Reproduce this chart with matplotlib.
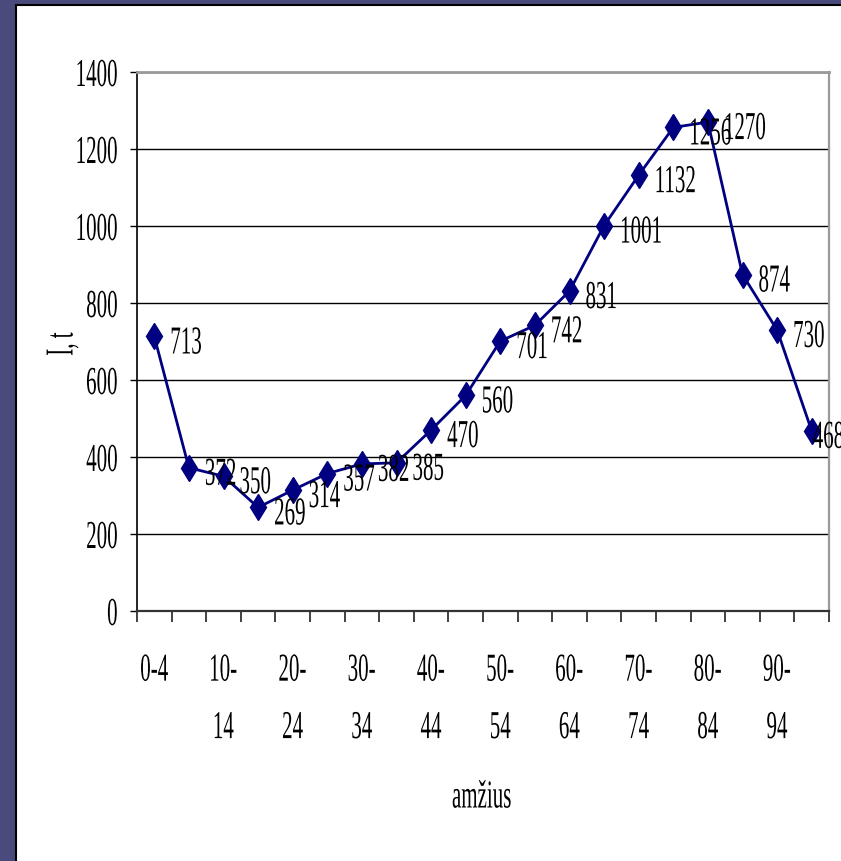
import matplotlib
matplotlib.use("Agg")
import matplotlib.pyplot as plt
import numpy as np
from matplotlib import patheffects
from matplotlib.patches import Rectangle
from matplotlib.transforms import Affine2D

# age groups and values
age_groups = ["0-4", "5-9", "10-14", "15-19", "20-24", "25-29", "30-34", "35-39",
              "40-44", "45-49", "50-54", "55-59", "60-64", "65-69", "70-74", "75-79",
              "80-84", "85-89", "90-94", "95-99"]
values = [713, 372, 350, 269, 314, 357, 382, 385, 470, 560,
          701, 742, 831, 1001, 1132, 1256, 1270, 874, 730, 468]
y_ticks = [0, 200, 400, 600, 800, 1000, 1200, 1400]
x_title = "amžius"
y_title = "I, t"

NAVY = "#000080"
SLIDE_BLUE = "#4a4a7c"
FONT = "Liberation Serif"
FS = 28.5
SQUEEZE = 0.53


class Squeeze(patheffects.AbstractPathEffect):
    """Narrow the glyph outlines along the text direction."""

    def __init__(self, sx=SQUEEZE, frac=0.5):
        super().__init__()
        self.sx = sx
        self.frac = frac

    def draw_path(self, renderer, gc, tpath, affine, rgbFace=None):
        v = tpath.vertices
        if len(v):
            x0, x1 = v[:, 0].min(), v[:, 0].max()
            a = x0 + self.frac * (x1 - x0)
            affine = Affine2D().translate(-a, 0).scale(self.sx, 1).translate(a, 0) + affine
        renderer.draw_path(gc, tpath, affine, rgbFace)


plt.rcParams["font.family"] = [FONT, "DejaVu Serif"]

fig = plt.figure(figsize=(8.41, 8.62), dpi=100)
fig.patch.set_facecolor(SLIDE_BLUE)

W, H = 841, 862
# white chart panel over the slide background, running off the right and bottom
fig.patches.append(Rectangle((16 / W, -0.2), 1.5, 1.2 - 6 / H, transform=fig.transFigure,
                             facecolor="white", edgecolor="black", linewidth=1.5, zorder=-1))

ax = fig.add_axes([137 / W, 1 - 612 / H, 692 / W, 539 / H])
ax.set_facecolor("white")

x = np.arange(len(values))
ax.plot(x, values, color=NAVY, linewidth=2.0, marker="d", markersize=13,
        markerfacecolor=NAVY, markeredgecolor=NAVY, zorder=3, clip_on=False)

for i, v in enumerate(values):
    # last label is pulled back in against the chart edge
    dx = 16 if i < len(values) - 1 else 1
    t = ax.annotate(str(v), (x[i], v), xytext=(dx, -3), textcoords="offset pixels",
                    ha="left", va="center_baseline", fontsize=FS, color="black",
                    annotation_clip=False, zorder=4)
    t.set_path_effects([Squeeze(frac=0.0)])

ax.set_xlim(-0.5, len(values) - 0.5)
ax.set_ylim(0, 1400)
ax.set_yticks(y_ticks)
ax.set_yticklabels([str(t) for t in y_ticks])
ax.yaxis.grid(True, color="black", linewidth=1.0)
ax.set_axisbelow(True)

shown = x[::2]
labels = [age_groups[i] if len(age_groups[i]) <= 3 else age_groups[i].replace("-", "-\n")
          for i in shown]
ax.set_xticks(shown)
ax.set_xticklabels(labels, linespacing=1.73)
ax.set_xticks(np.arange(-0.5, len(values), 1.0), minor=True)

ax.tick_params(axis="x", which="major", length=0, pad=30, labelsize=FS)
ax.tick_params(axis="x", which="minor", length=8, width=1.3, color="#333333", direction="out")
ax.tick_params(axis="y", length=5, width=1.0, color="black", direction="out", pad=8.5,
               labelsize=FS)

for lab in ax.get_xticklabels():
    lab.set_verticalalignment("top")
    lab.set_path_effects([Squeeze(frac=0.5)])
for lab in ax.get_yticklabels():
    lab.set_path_effects([Squeeze(frac=1.0)])

ax.spines["left"].set_color("black")
ax.spines["left"].set_linewidth(1.2)
ax.spines["bottom"].set_color("#333333")
ax.spines["bottom"].set_linewidth(1.6)
ax.spines["top"].set_color("#9a9a9a")
ax.spines["top"].set_linewidth(2.0)
ax.spines["right"].set_color("#9a9a9a")
ax.spines["right"].set_linewidth(1.6)

yl = fig.text(63 / W, 1 - 345 / H, y_title, rotation=90, ha="center", va="center", fontsize=FS)
yl.set_path_effects([Squeeze(frac=0.5)])
xl = fig.text(482 / W, 1 - 799 / H, x_title, ha="center", va="center", fontsize=FS)
xl.set_path_effects([Squeeze(frac=0.5)])

fig.savefig("out.png", dpi=100, facecolor=fig.get_facecolor())
